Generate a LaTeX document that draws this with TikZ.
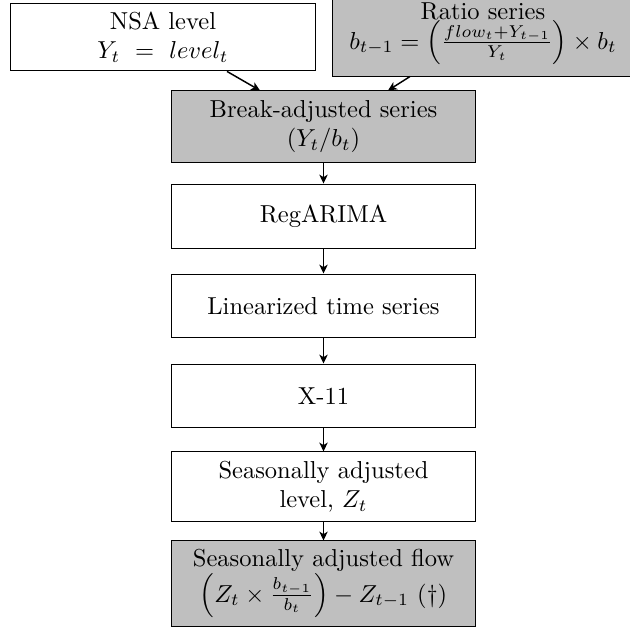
\documentclass[tikz,border=0pt]{standalone}
\usetikzlibrary{calc,arrows.meta}
\begin{document}
\begin{tikzpicture}[x=0.408pt,y=-0.408pt,
  box/.style={draw,rectangle,inner sep=0pt,align=center,minimum width=124.4pt},
  shaded/.style={box,fill=gray!50},
  arr/.style={-{Stealth[length=3.6pt,width=3.4pt,inset=1pt]},semithick}]
\useasboundingbox (0,0) rectangle (629,630);
\node[box,minimum width=124.8pt,minimum height=27.7pt] (nsa) at (163,37)
  {NSA level\\ $Y_t\ =\ level_t$};
\node[shaded,minimum width=123.2pt,minimum height=34.3pt] (ratio) at (483,34)
  {Ratio series\\ $b_{t-1}=\left(\frac{flow_t+Y_{t-1}}{Y_t}\right)\times b_t$};
\node[shaded,minimum height=29pt] (brk) at (323.5,126.5)
  {Break-adjusted series\\ $(Y_t/b_t)$};
\node[box,minimum height=26.5pt] (reg) at (323.5,216.5) {RegARIMA};
\node[box,minimum height=26.1pt] (lin) at (323.5,306) {Linearized time series};
\node[box,minimum height=26.1pt] (x11) at (323.5,396) {X-11};
\node[box,minimum height=28.2pt] (sal) at (323.5,486.5)
  {Seasonally adjusted\\ level, $Z_t$};
\node[shaded,minimum height=34.7pt] (flow) at (323.5,583.5)
  {Seasonally adjusted flow\\ $\left(Z_t\times\frac{b_{t-1}}{b_t}\right)-Z_{t-1}$ (\dag)};
\draw[arr] ($(nsa.south)+(64,0)$) -- ($(brk.north)+(-63.5,0)$);
\draw[arr] ($(ratio.south)+(-73,0)$) -- ($(brk.north)+(64.5,0)$);
\draw[arr] (brk) -- (reg);
\draw[arr] (reg) -- (lin);
\draw[arr] (lin) -- (x11);
\draw[arr] (x11) -- (sal);
\draw[arr] (sal) -- (flow);
\end{tikzpicture}
\end{document}
